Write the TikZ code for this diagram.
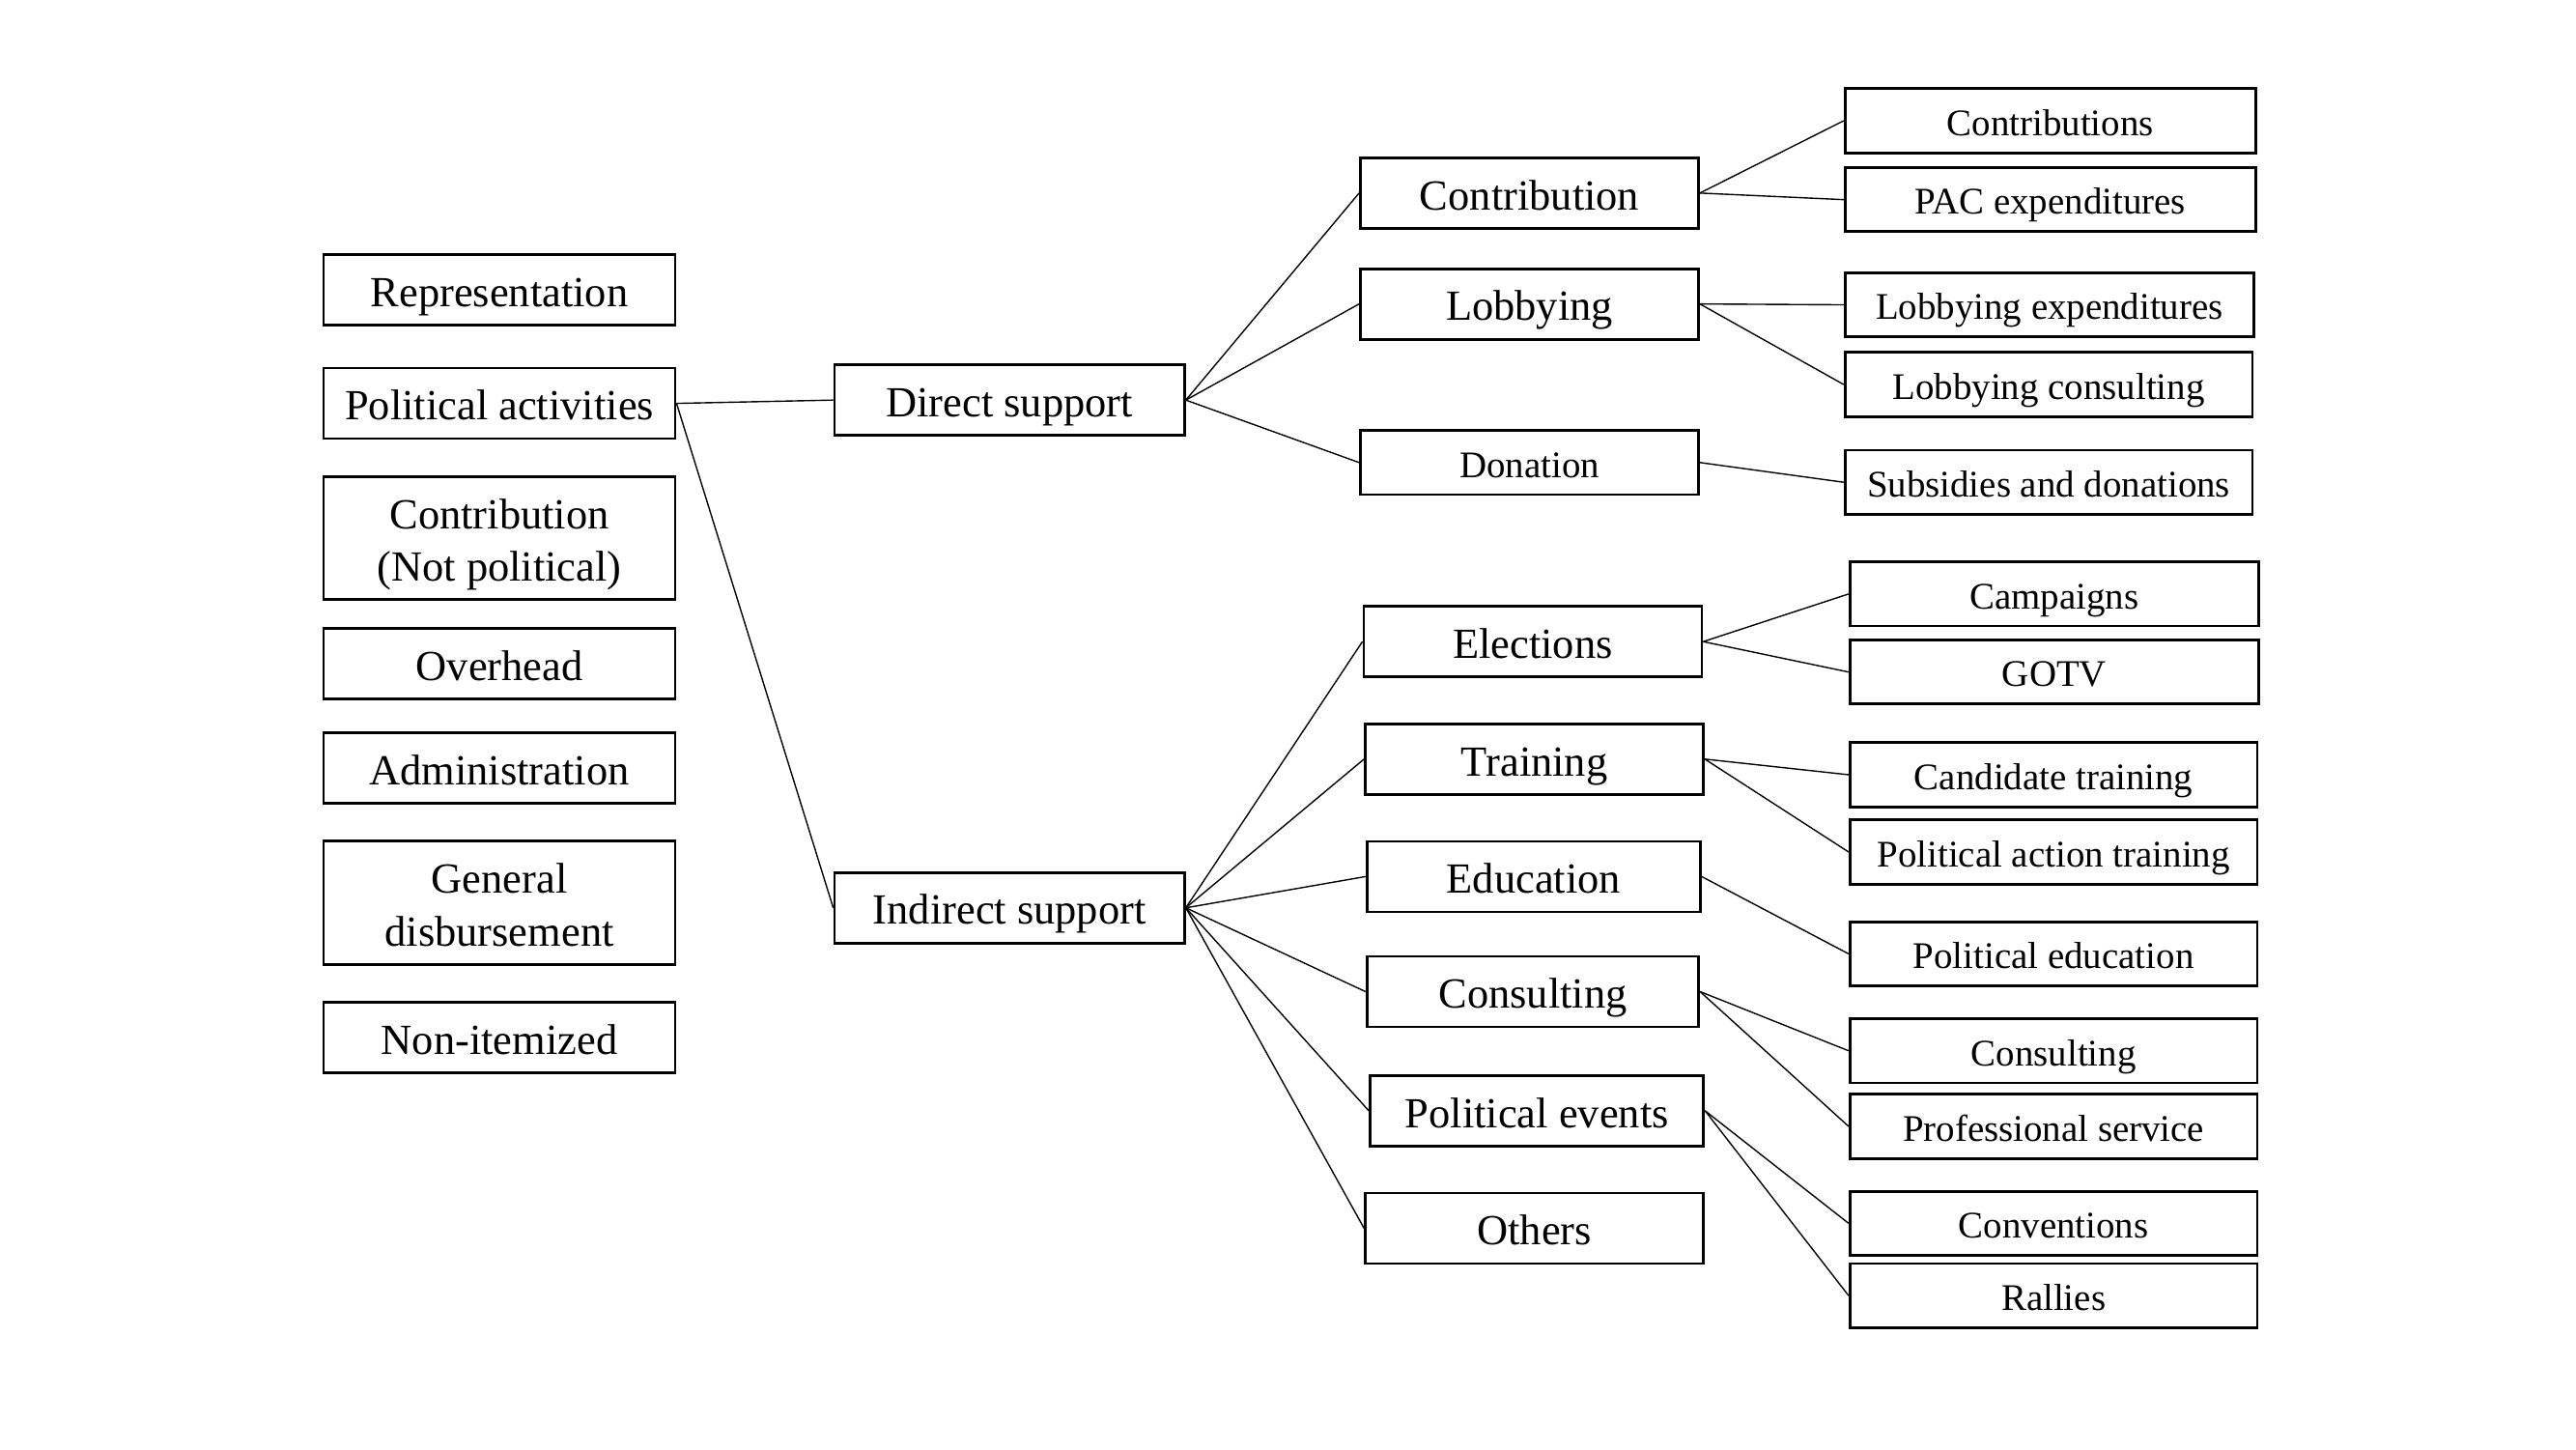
\documentclass[tikz,border=0pt]{standalone}
\usepackage{fontspec}
\setmainfont{Liberation Serif}

\begin{document}
\begin{tikzpicture}[x=0.6122pt, y=-0.6122pt,
  box/.style={draw, line width=1pt, inner sep=0pt, align=center},
  big/.style={box, font=\fontsize{16}{19.5}\selectfont, minimum height=26.3pt, text height=13pt, text depth=0.6pt},
  twoline/.style={big, minimum height=45.9pt, text height=32.6pt},
  small/.style={box, font=\fontsize{14}{17}\selectfont, minimum height=23.9pt, text height=11.5pt, text depth=0.5pt},
  link/.style={line width=0.5pt}]
\useasboundingbox (0,0) rectangle (1568,882);

% left column
\node[big, minimum width=131pt] (repr) at (304, 176.5) {Representation};
\node[big, minimum width=131pt] (polact) at (304, 245.5) {Political activities};
\node[twoline, minimum width=131pt] (contrnp) at (304, 327.5) {Contribution\\(Not political)};
\node[big, minimum width=131pt] (overhead) at (304, 404) {Overhead};
\node[big, minimum width=131pt] (admin) at (304, 467.5) {Administration};
\node[twoline, minimum width=131pt] (gendisb) at (304, 549.5) {General\\disbursement};
\node[big, minimum width=131pt] (nonitem) at (304, 631.5) {Non-itemized};

% support
\node[big, minimum width=130.4pt] (direct) at (614.5, 243.5) {Direct support};
\node[big, minimum width=130.4pt] (indirect) at (614.5, 552.5) {Indirect support};

% categories
\node[big, minimum width=126pt] (contr) at (931, 117.5) {Contribution};
\node[big, minimum width=126pt] (lobby) at (931, 185) {Lobbying};
\node[small, minimum width=126pt] (donat) at (931, 281.5) {Donation};
\node[big, minimum width=126pt] (elect) at (933, 390.5) {Elections};
\node[big, minimum width=126pt] (train) at (934, 462) {Training};
\node[big, minimum width=124.3pt] (educ) at (933.5, 533.5) {Education};
\node[big, minimum width=123.7pt] (consult) at (933, 603.5) {Consulting};
\node[big, minimum width=124.3pt] (polev) at (935.5, 676) {Political events};
\node[big, minimum width=126pt] (others) at (934, 747.5) {Others};

% items
\node[small, minimum width=153pt] (contribs) at (1248, 73.5) {Contributions};
\node[small, minimum width=153pt] (pac) at (1248, 121.5) {PAC expenditures};
\node[small, minimum width=152.4pt] (lobexp) at (1247.5, 185.5) {Lobbying expenditures};
\node[small, minimum width=151.8pt] (lobcons) at (1247, 234) {Lobbying consulting};
\node[small, minimum width=151.8pt] (subs) at (1247, 293.5) {Subsidies and donations};
\node[small, minimum width=152.4pt] (camp) at (1250.5, 361.5) {Campaigns};
\node[small, minimum width=152.4pt] (gotv) at (1250.5, 409) {GOTV};
\node[small, minimum width=151.8pt] (candtr) at (1250, 471.5) {Candidate training};
\node[small, minimum width=151.8pt] (polactr) at (1250, 518.5) {Political action training};
\node[small, minimum width=151.8pt] (poledu) at (1250, 580.5) {Political education};
\node[small, minimum width=151.8pt] (consultb) at (1250, 639.5) {Consulting};
\node[small, minimum width=151.8pt] (profserv) at (1250, 685.5) {Professional service};
\node[small, minimum width=151.8pt] (conv) at (1250, 744.5) {Conventions};
\node[small, minimum width=151.8pt] (rallies) at (1250, 788.5) {Rallies};

% links
\draw[link] (polact.east) -- (direct.west);
\draw[link] (polact.east) -- (indirect.west);
\foreach \c in {contr, lobby, donat}
  \draw[link] (direct.east) -- (\c.west);
\foreach \c in {elect, train, educ, consult, polev, others}
  \draw[link] (indirect.east) -- (\c.west);
\draw[link] (contr.east) -- (contribs.west);
\draw[link] (contr.east) -- (pac.west);
\draw[link] (lobby.east) -- (lobexp.west);
\draw[link] (lobby.east) -- (lobcons.west);
\draw[link] (donat.east) -- (subs.west);
\draw[link] (elect.east) -- (camp.west);
\draw[link] (elect.east) -- (gotv.west);
\draw[link] (train.east) -- (candtr.west);
\draw[link] (train.east) -- (polactr.west);
\draw[link] (educ.east) -- (poledu.west);
\draw[link] (consult.east) -- (consultb.west);
\draw[link] (consult.east) -- (profserv.west);
\draw[link] (polev.east) -- (conv.west);
\draw[link] (polev.east) -- (rallies.west);
\end{tikzpicture}
\end{document}
